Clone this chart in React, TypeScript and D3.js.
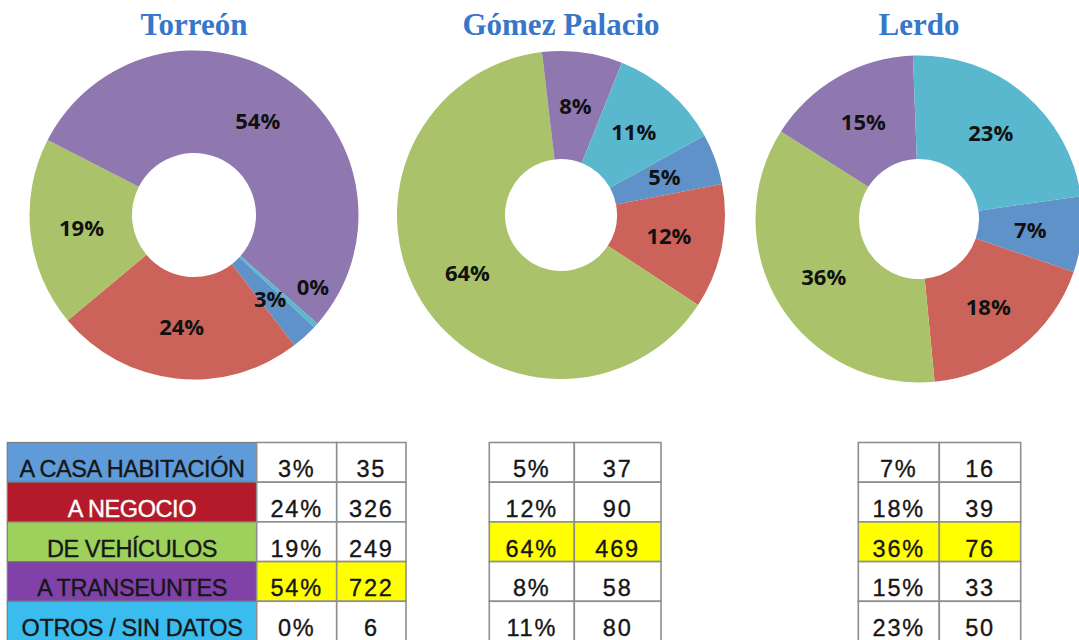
import React from "react";
import * as d3 from "d3";

// ---- data ----
const categories = [
  "A CASA HABITACIÓN",
  "A NEGOCIO",
  "DE VEHÍCULOS",
  "A TRANSEUNTES",
  "OTROS / SIN DATOS",
];
const cities = ["Torreón", "Gómez Palacio", "Lerdo"];
const torreonCounts = [35, 326, 249, 722, 6];
const torreonPct = [3, 24, 19, 54, 0];
const gomezCounts = [37, 90, 469, 58, 80];
const gomezPct = [5, 12, 64, 8, 11];
const lerdoCounts = [16, 39, 76, 33, 50];
const lerdoPct = [7, 18, 36, 15, 23];
// angle (degrees, clockwise from 12 o'clock) of the first slice of each doughnut
const firstSliceAngle = [133, 61, 82];

// ---- styles ----
const sliceColors = ["#5f92c8", "#cc635a", "#aac36a", "#8f78b0", "#5ab8ce"];
const cellColors = ["#5e9bd8", "#b51a2a", "#9dd15c", "#8042a9", "#3bbcee"];
const cellText = ["#161616", "#ffffff", "#161616", "#161616", "#161616"];

const counts = [torreonCounts, gomezCounts, lerdoCounts];
const pcts = [torreonPct, gomezPct, lerdoPct];

const pieGeom = [
  { cx: 194, cy: 215, ro: 164.5, ri: 62 },
  { cx: 561, cy: 215, ro: 164, ri: 56 },
  { cx: 919, cy: 219, ro: 163.5, ri: 60 },
];

const tableGeom = [
  { label: [7.3, 256.7], cols: [256.7, 336.7, 406] },
  { label: null, cols: [489.3, 574.3, 661] },
  { label: null, cols: [858.3, 939.3, 1020.7] },
];

const rowScale = d3
  .scaleBand<string>()
  .domain(categories)
  .range([442.5, 641])
  .paddingInner(0);

function Doughnut({ idx }: { idx: number }) {
  const g = pieGeom[idx];
  const data = counts[idx];
  const total = d3.sum(data);
  const rot = (firstSliceAngle[idx] * Math.PI) / 180;
  const arcs = d3
    .pie<number>()
    .sort(null)
    .startAngle(rot)
    .endAngle(rot + 2 * Math.PI)(data);
  const arc = d3.arc<d3.PieArcDatum<number>>().innerRadius(g.ri).outerRadius(g.ro);
  return (
    <g transform={`translate(${g.cx},${g.cy})`}>
      {arcs.map((a, i) => (
        <path key={i} d={arc(a) || ""} fill={sliceColors[i]} />
      ))}
      {arcs.map((a, i) => {
        let [x, y] = arc.centroid(a);
        if (a.value / total < 0.01) {
          x += 35;
          y -= 4;
        }
        return (
          <text
            key={"l" + i}
            x={x}
            y={y}
            dy="0.36em"
            textAnchor="middle"
            fontFamily="'Open Sans', 'DejaVu Sans', sans-serif"
            fontWeight={700}
            fontSize={22}
            fill="#111"
          >
            {pcts[idx][i]}%
          </text>
        );
      })}
      <text
        x={0}
        y={35 - g.cy}
        textAnchor="middle"
        fontFamily="'Liberation Serif', 'Times New Roman', serif"
        fontWeight={700}
        fontSize={31}
        fill="#3776c9"
      >
        {cities[idx]}
      </text>
    </g>
  );
}

function Table({ idx }: { idx: number }) {
  const t = tableGeom[idx];
  const data = counts[idx];
  const maxIdx = d3.maxIndex(data);
  const h = rowScale.bandwidth();
  const border = "#8f8f8f";
  const font = "'Liberation Sans', Arial, sans-serif";
  return (
    <g>
      {categories.map((c, i) => {
        const y0 = rowScale(c)!;
        const base = y0 + h - 5;
        const hi = i === maxIdx;
        return (
          <g key={c}>
            {t.label && (
              <g>
                <rect
                  x={t.label[0]}
                  y={y0}
                  width={t.label[1] - t.label[0]}
                  height={h}
                  fill={cellColors[i]}
                  stroke="#7a7a7a"
                  strokeWidth={1.2}
                />
                <text
                  x={(t.label[0] + t.label[1]) / 2}
                  y={base}
                  textAnchor="middle"
                  fontFamily={font}
                  fontSize={23.5}
                  fill={cellText[i]}
                  stroke={cellText[i]}
                  strokeWidth={0.35}
                  letterSpacing={-0.4}
                >
                  {c}
                </text>
              </g>
            )}
            {[0, 1].map((k) => (
              <g key={k}>
                <rect
                  x={t.cols[k]}
                  y={y0}
                  width={t.cols[k + 1] - t.cols[k]}
                  height={h}
                  fill={hi ? "#ffff00" : "#ffffff"}
                  stroke={border}
                  strokeWidth={1.6}
                />
                <text
                  x={(t.cols[k] + t.cols[k + 1]) / 2}
                  y={base}
                  textAnchor="middle"
                  fontFamily={font}
                  fontSize={23.5}
                  fill="#161616"
                  stroke="#161616"
                  strokeWidth={0.35}
                  letterSpacing={1.8}
                >
                  {k === 0 ? `${pcts[idx][i]}%` : `${data[i]}`}
                </text>
              </g>
            ))}
          </g>
        );
      })}
    </g>
  );
}

export default function App() {
  return (
    <svg
      width={1079}
      height={640}
      style={{ position: "absolute", left: 0, top: 0, background: "#fff" }}
    >
      <rect x={0} y={0} width={1079} height={640} fill="#fff" />
      {cities.map((_, i) => (
        <Doughnut key={i} idx={i} />
      ))}
      {cities.map((_, i) => (
        <Table key={"t" + i} idx={i} />
      ))}
    </svg>
  );
}
